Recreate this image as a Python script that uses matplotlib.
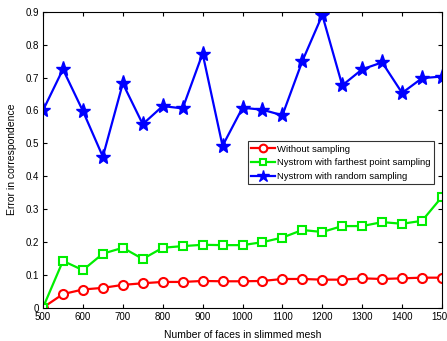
import matplotlib
matplotlib.use("Agg")
import matplotlib.pyplot as plt

faces = [500, 550, 600, 650, 700, 750, 800, 850, 900, 950, 1000,
         1050, 1100, 1150, 1200, 1250, 1300, 1350, 1400, 1450, 1500]

without_sampling = [0.0, 0.041, 0.055, 0.060, 0.069, 0.074, 0.078, 0.078, 0.081, 0.080, 0.080,
                    0.081, 0.087, 0.087, 0.085, 0.085, 0.089, 0.087, 0.089, 0.091, 0.091]
farthest_sampling = [0.0, 0.142, 0.114, 0.164, 0.182, 0.148, 0.182, 0.187, 0.191, 0.190, 0.190,
                     0.199, 0.213, 0.236, 0.230, 0.248, 0.248, 0.260, 0.255, 0.264, 0.337]
random_sampling = [0.600, 0.725, 0.598, 0.459, 0.682, 0.558, 0.613, 0.606, 0.773, 0.492, 0.608,
                   0.602, 0.585, 0.750, 0.890, 0.676, 0.725, 0.746, 0.653, 0.698, 0.703]

plt.rcParams['font.family'] = ['Liberation Sans', 'DejaVu Sans']

fig = plt.figure(figsize=(4.47, 3.41), dpi=100)
ax = fig.add_axes([43 / 447, 0.098, (442 - 43) / 447, 0.8675])

ax.plot(faces, without_sampling, color='red', lw=1.6, marker='o', ms=6.5,
        mfc='white', mec='red', mew=1.5, label='Without sampling')
ax.plot(faces, farthest_sampling, color='#00ee00', lw=1.6, marker='s', ms=5.5,
        mfc='white', mec='#00ee00', mew=1.5, label='Nystrom with farthest point sampling')
ax.plot(faces, random_sampling, color='blue', lw=1.6, marker='*', ms=11,
        mfc='blue', mec='blue', label='Nystrom with random sampling')

ax.set_xlim(500, 1500)
ax.set_ylim(0, 0.9)
ax.set_xticks(range(500, 1501, 100))
ax.set_yticks([0, 0.1, 0.2, 0.3, 0.4, 0.5, 0.6, 0.7, 0.8, 0.9])
ax.set_yticklabels(['0', '0.1', '0.2', '0.3', '0.4', '0.5', '0.6', '0.7', '0.8', '0.9'])
ax.tick_params(direction='in', top=True, right=True, labelsize=7, length=3, pad=3)

ax.set_xlabel('Number of faces in slimmed mesh', fontsize=7.5, labelpad=6)
ax.set_ylabel('Error in correspondence', fontsize=7.5, labelpad=6)

leg = ax.legend(loc='upper left', bbox_to_anchor=(0.513, 0.562), fontsize=6.8,
                frameon=True, fancybox=False, edgecolor='black', borderpad=0.35,
                handlelength=2.5, handletextpad=0.3, labelspacing=0.5, borderaxespad=0,
                markerscale=0.85)
leg.get_frame().set_linewidth(0.8)

fig.savefig('out.png', dpi=100)
